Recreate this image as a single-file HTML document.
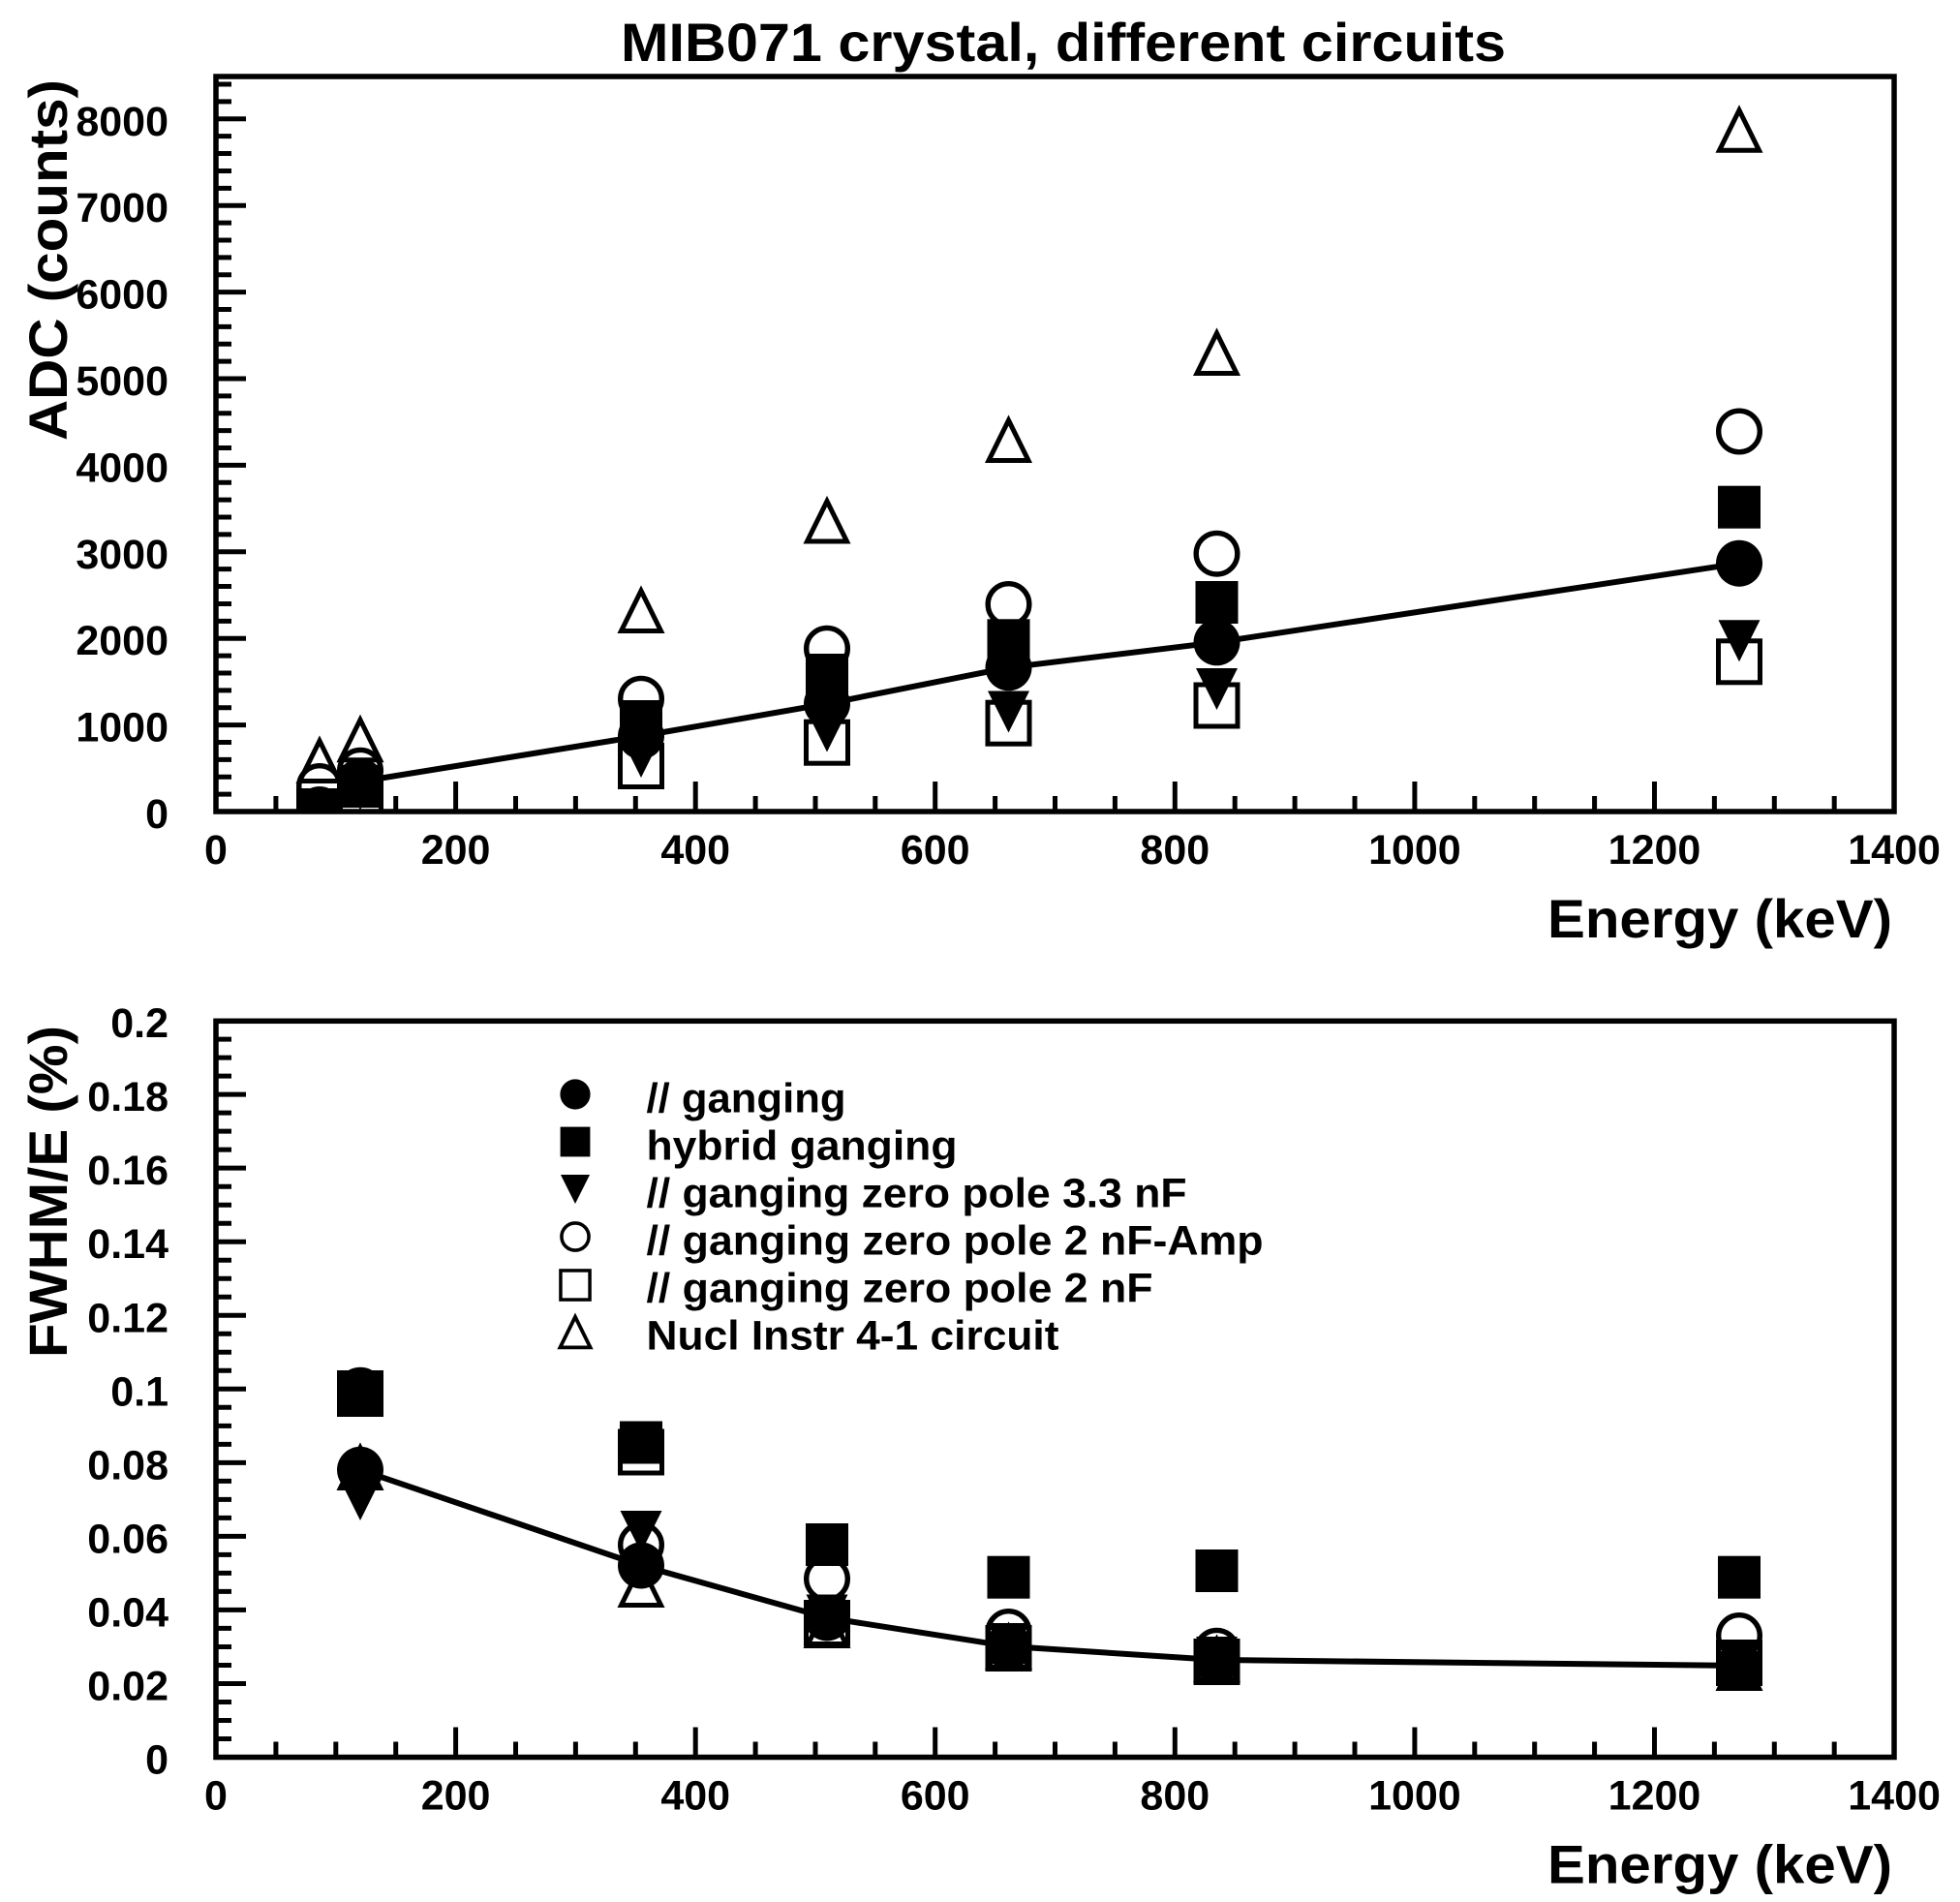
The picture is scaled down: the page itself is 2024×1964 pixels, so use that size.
<!DOCTYPE html>
<html>
<head>
<meta charset="utf-8">
<style>
  html, body { margin: 0; padding: 0; background: #fff; }
  svg { display: block; }
  text { font-family: "Liberation Sans", Arial, sans-serif; font-weight: bold; fill: #000; }
</style>
</head>
<body>
<svg width="2024" height="1964" viewBox="0 0 2024 1964" xmlns="http://www.w3.org/2000/svg">
  <defs>
    <circle id="fc" r="24" fill="#000"/>
    <rect id="fs" x="-22" y="-22" width="44" height="44" fill="#000"/>
    <polygon id="ft" points="-21.5,-21.5 21.5,-21.5 0,21.5" fill="#000"/>
    <circle id="oc" r="21.3" fill="none" stroke="#000" stroke-width="5.4"/>
    <rect id="os" x="-21.5" y="-21.5" width="43" height="43" fill="none" stroke="#000" stroke-width="5"/>
    <polygon id="ot" points="0,-20 20.5,21.5 -20.5,21.5" fill="none" stroke="#000" stroke-width="5" stroke-linejoin="miter"/>
    <clipPath id="clipTop"><rect x="223" y="79" width="1733" height="759"/></clipPath>
    <clipPath id="clipBot"><rect x="223" y="1054" width="1733" height="761"/></clipPath>
  </defs>

  <rect x="0" y="0" width="2024" height="1964" fill="#fff"/>

  <!-- Title -->
  <text x="1098" y="63" font-size="56" text-anchor="middle" textLength="914" lengthAdjust="spacingAndGlyphs">MIB071 crystal, different circuits</text>

  <!-- ================= TOP PLOT ================= -->
  <rect x="223" y="79" width="1733" height="759" fill="none" stroke="#000" stroke-width="5.5"/>
  <path stroke="#000" stroke-width="5" fill="none" d="
    M223,838h31 M223,820.12h16 M223,802.24h16 M223,784.36h16 M223,766.48h16
    M223,748.6h31 M223,730.72h16 M223,712.84h16 M223,694.96h16 M223,677.08h16
    M223,659.2h31 M223,641.32h16 M223,623.44h16 M223,605.56h16 M223,587.68h16
    M223,569.8h31 M223,551.92h16 M223,534.04h16 M223,516.16h16 M223,498.28h16
    M223,480.4h31 M223,462.52h16 M223,444.64h16 M223,426.76h16 M223,408.88h16
    M223,391h31 M223,373.12h16 M223,355.24h16 M223,337.36h16 M223,319.48h16
    M223,301.6h31 M223,283.72h16 M223,265.84h16 M223,247.96h16 M223,230.08h16
    M223,212.2h31 M223,194.32h16 M223,176.44h16 M223,158.56h16 M223,140.68h16
    M223,122.8h31 M223,104.92h16 M223,87.04h16"/>
  <path stroke="#000" stroke-width="5" fill="none" d="
    M284.9,838v-16 M346.8,838v-16 M408.7,838v-16 M470.6,838v-31
    M532.5,838v-16 M594.4,838v-16 M656.3,838v-16 M718.2,838v-31
    M780.1,838v-16 M842,838v-16 M903.8,838v-16 M965.7,838v-31
    M1027.6,838v-16 M1089.5,838v-16 M1151.4,838v-16 M1213.3,838v-31
    M1275.2,838v-16 M1337.1,838v-16 M1399,838v-16 M1460.9,838v-31
    M1522.8,838v-16 M1584.7,838v-16 M1646.6,838v-16 M1708.5,838v-31
    M1770.4,838v-16 M1832.3,838v-16 M1894.2,838v-16"/>
  <g font-size="43" text-anchor="end">
    <text x="174" y="855">0</text>
    <text x="174" y="765.6">1000</text>
    <text x="174" y="676.2">2000</text>
    <text x="174" y="586.8">3000</text>
    <text x="174" y="497.4">4000</text>
    <text x="174" y="408">5000</text>
    <text x="174" y="318.6">6000</text>
    <text x="174" y="229.2">7000</text>
    <text x="174" y="139.8">8000</text>
  </g>
  <g font-size="43" text-anchor="middle">
    <text x="223" y="892">0</text>
    <text x="470.6" y="892">200</text>
    <text x="718.2" y="892">400</text>
    <text x="965.7" y="892">600</text>
    <text x="1213.3" y="892">800</text>
    <text x="1460.9" y="892">1000</text>
    <text x="1708.5" y="892">1200</text>
    <text x="1956.1" y="892">1400</text>
  </g>
  <text x="1954" y="968" font-size="56" text-anchor="end" textLength="356" lengthAdjust="spacingAndGlyphs">Energy (keV)</text>
  <text transform="translate(69,82) rotate(-90)" x="0" y="0" font-size="56" text-anchor="end" textLength="373" lengthAdjust="spacingAndGlyphs">ADC (counts)</text>

  <g clip-path="url(#clipTop)">
    <polyline fill="none" stroke="#000" stroke-width="6" points="330,836 372,807 662,760 854,726.7 1041.5,689.3 1256.5,663.3 1796,581.7"/>
    <use href="#fc" x="330" y="836"/><use href="#fc" x="372" y="807"/><use href="#fc" x="662" y="760"/>
    <use href="#fc" x="854" y="726.7"/><use href="#fc" x="1041.5" y="689.3"/><use href="#fc" x="1256.5" y="663.3"/><use href="#fc" x="1796" y="581.7"/>
    <use href="#fs" x="330" y="838"/><use href="#fs" x="372" y="812"/><use href="#fs" x="662" y="745"/>
    <use href="#fs" x="854" y="697"/><use href="#fs" x="1041.5" y="661.3"/><use href="#fs" x="1256.5" y="622"/><use href="#fs" x="1796" y="523.7"/>
    <use href="#ft" x="330" y="842"/><use href="#ft" x="372" y="815"/><use href="#ft" x="662" y="781.5"/>
    <use href="#ft" x="854" y="755"/><use href="#ft" x="1041.5" y="735"/><use href="#ft" x="1256.5" y="711.5"/><use href="#ft" x="1796" y="661.8"/>
    <use href="#oc" x="330" y="812"/><use href="#oc" x="372" y="795.7"/><use href="#oc" x="662" y="721.7"/>
    <use href="#oc" x="854" y="669.7"/><use href="#oc" x="1041.5" y="624"/><use href="#oc" x="1256.5" y="571.7"/><use href="#oc" x="1796" y="445.5"/>
    <use href="#os" x="330" y="838"/><use href="#os" x="372" y="824"/><use href="#os" x="662" y="791"/>
    <use href="#os" x="854" y="766.7"/><use href="#os" x="1041.5" y="746.7"/><use href="#os" x="1256.5" y="728.5"/><use href="#os" x="1796" y="683.3"/>
    <use href="#ot" x="330" y="785"/><use href="#ot" x="372" y="763.3"/><use href="#ot" x="662" y="630"/>
    <use href="#ot" x="854" y="537.5"/><use href="#ot" x="1041.5" y="454"/><use href="#ot" x="1256.5" y="364"/><use href="#ot" x="1796" y="133.8"/>
  </g>

  <!-- ================= BOTTOM PLOT ================= -->
  <rect x="223" y="1054.3" width="1733" height="760.2" fill="none" stroke="#000" stroke-width="5.5"/>
  <path stroke="#000" stroke-width="5" fill="none" d="
    M223,1814.5h31 M223,1795.49h16 M223,1776.48h16 M223,1757.47h16
    M223,1738.46h31 M223,1719.45h16 M223,1700.44h16 M223,1681.43h16
    M223,1662.42h31 M223,1643.41h16 M223,1624.4h16 M223,1605.39h16
    M223,1586.38h31 M223,1567.37h16 M223,1548.36h16 M223,1529.35h16
    M223,1510.34h31 M223,1491.33h16 M223,1472.32h16 M223,1453.31h16
    M223,1434.3h31 M223,1415.29h16 M223,1396.28h16 M223,1377.27h16
    M223,1358.26h31 M223,1339.25h16 M223,1320.24h16 M223,1301.23h16
    M223,1282.22h31 M223,1263.21h16 M223,1244.2h16 M223,1225.19h16
    M223,1206.18h31 M223,1187.17h16 M223,1168.16h16 M223,1149.15h16
    M223,1130.14h31 M223,1111.13h16 M223,1092.12h16 M223,1073.11h16"/>
  <path stroke="#000" stroke-width="5" fill="none" d="
    M284.9,1814.5v-16 M346.8,1814.5v-16 M408.7,1814.5v-16 M470.6,1814.5v-31
    M532.5,1814.5v-16 M594.4,1814.5v-16 M656.3,1814.5v-16 M718.2,1814.5v-31
    M780.1,1814.5v-16 M842,1814.5v-16 M903.8,1814.5v-16 M965.7,1814.5v-31
    M1027.6,1814.5v-16 M1089.5,1814.5v-16 M1151.4,1814.5v-16 M1213.3,1814.5v-31
    M1275.2,1814.5v-16 M1337.1,1814.5v-16 M1399,1814.5v-16 M1460.9,1814.5v-31
    M1522.8,1814.5v-16 M1584.7,1814.5v-16 M1646.6,1814.5v-16 M1708.5,1814.5v-31
    M1770.4,1814.5v-16 M1832.3,1814.5v-16 M1894.2,1814.5v-16"/>
  <g font-size="43" text-anchor="end">
    <text x="174" y="1831.5">0</text>
    <text x="174" y="1755.5">0.02</text>
    <text x="174" y="1679.4">0.04</text>
    <text x="174" y="1603.4">0.06</text>
    <text x="174" y="1527.3">0.08</text>
    <text x="174" y="1451.3">0.1</text>
    <text x="174" y="1375.3">0.12</text>
    <text x="174" y="1299.2">0.14</text>
    <text x="174" y="1223.2">0.16</text>
    <text x="174" y="1147.1">0.18</text>
    <text x="174" y="1071.1">0.2</text>
  </g>
  <g font-size="43" text-anchor="middle">
    <text x="223" y="1868.5">0</text>
    <text x="470.6" y="1868.5">200</text>
    <text x="718.2" y="1868.5">400</text>
    <text x="965.7" y="1868.5">600</text>
    <text x="1213.3" y="1868.5">800</text>
    <text x="1460.9" y="1868.5">1000</text>
    <text x="1708.5" y="1868.5">1200</text>
    <text x="1956.1" y="1868.5">1400</text>
  </g>
  <text x="1954" y="1944.5" font-size="56" text-anchor="end" textLength="356" lengthAdjust="spacingAndGlyphs">Energy (keV)</text>
  <text transform="translate(69,1059) rotate(-90)" x="0" y="0" font-size="56" text-anchor="end" textLength="343" lengthAdjust="spacingAndGlyphs">FWHM/E (%)</text>

  <g clip-path="url(#clipBot)">
    <polyline fill="none" stroke="#000" stroke-width="6" points="372,1517.8 662,1616.5 854,1670.5 1041.5,1700 1256.5,1714 1796,1720"/>
    <use href="#os" x="372" y="1439"/>
    <use href="#fc" x="372" y="1517.8"/><use href="#fc" x="662" y="1616.5"/><use href="#fc" x="854" y="1670.5"/>
    <use href="#fc" x="1041.5" y="1700"/><use href="#fc" x="1256.5" y="1714"/><use href="#fc" x="1796" y="1720"/>
    <use href="#fs" x="372" y="1439"/><use href="#fs" x="662" y="1489.5"/><use href="#fs" x="854" y="1595"/>
    <use href="#fs" x="1041.5" y="1628.7"/><use href="#fs" x="1256.5" y="1622"/><use href="#fs" x="1796" y="1628.7"/>
    <use href="#ft" x="372" y="1548.5"/><use href="#ft" x="662" y="1581.5"/><use href="#ft" x="854" y="1668"/>
    <use href="#ft" x="1041.5" y="1697.5"/><use href="#ft" x="1256.5" y="1711.5"/><use href="#ft" x="1796" y="1718"/>
    <use href="#oc" x="372" y="1435.7"/><use href="#oc" x="662" y="1595.3"/><use href="#oc" x="854" y="1630.3"/>
    <use href="#oc" x="1041.5" y="1685"/><use href="#oc" x="1256.5" y="1704.7"/><use href="#oc" x="1796" y="1689"/>
    <use href="#os" x="662" y="1499.5"/><use href="#os" x="854" y="1676"/>
    <use href="#os" x="1041.5" y="1702"/><use href="#os" x="1256.5" y="1716"/><use href="#os" x="1796" y="1717"/>
    <use href="#ot" x="372" y="1515"/><use href="#ot" x="662" y="1636"/><use href="#ot" x="854" y="1678"/>
    <use href="#ot" x="1041.5" y="1700"/><use href="#ot" x="1256.5" y="1713"/><use href="#ot" x="1796" y="1722"/>
  </g>

  <!-- Legend -->
  <use href="#fc" transform="translate(594,1130) scale(0.65)"/>
  <use href="#fs" transform="translate(594,1179) scale(0.7)"/>
  <use href="#ft" transform="translate(594,1228) scale(0.7)"/>
  <use href="#oc" transform="translate(594,1277) scale(0.66)"/>
  <use href="#os" transform="translate(594,1327) scale(0.7)"/>
  <use href="#ot" transform="translate(594,1375) scale(0.76)"/>
  <g font-size="43">
    <text x="667.5" y="1148.5" textLength="206" lengthAdjust="spacingAndGlyphs">// ganging</text>
    <text x="667.5" y="1197.5" textLength="321" lengthAdjust="spacingAndGlyphs">hybrid ganging</text>
    <text x="667.5" y="1246.5" textLength="558" lengthAdjust="spacingAndGlyphs">// ganging zero pole 3.3 nF</text>
    <text x="667.5" y="1295.5" textLength="637" lengthAdjust="spacingAndGlyphs">// ganging zero pole 2 nF-Amp</text>
    <text x="667.5" y="1344.5" textLength="523" lengthAdjust="spacingAndGlyphs">// ganging zero pole 2 nF</text>
    <text x="667.5" y="1393.5" textLength="426" lengthAdjust="spacingAndGlyphs">Nucl Instr 4-1 circuit</text>
  </g>
</svg>
</body>
</html>
